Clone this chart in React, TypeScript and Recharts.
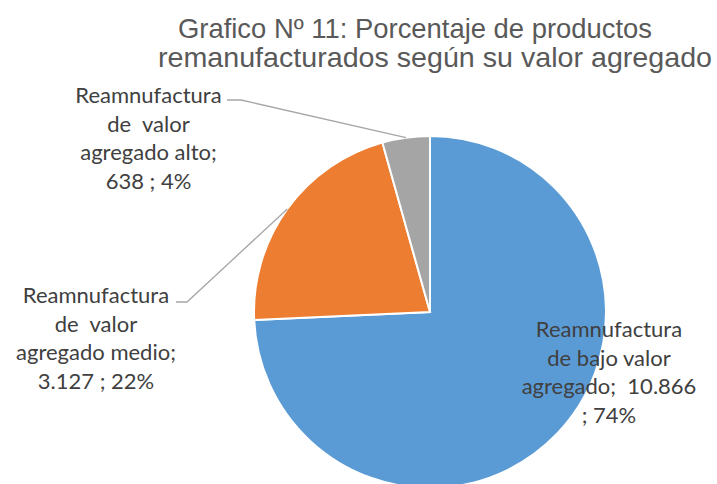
import React from "react";
import { PieChart, Pie, Cell } from "recharts";

const categories = [
  "Reamnufactura de bajo valor agregado",
  "Reamnufactura de valor agregado medio",
  "Reamnufactura de valor agregado alto",
];
const categoryLines = [
  ["Reamnufactura", "de bajo valor", "agregado;"],
  ["Reamnufactura", "de  valor", "agregado medio;"],
  ["Reamnufactura", "de  valor", "agregado alto;"],
];
const values = [10866, 3127, 638];
const percentLabels = ["74%", "22%", "4%"];
const colors = ["#5B9BD5", "#ED7D31", "#A5A5A5"];
const titleLines = [
  "Grafico Nº 11: Porcentaje de productos",
  "remanufacturados según su valor agregado",
];

const data = categories.map((name, i) => ({ name, value: values[i] }));

const W = 717;
const H = 484;
const CX = 430;
const CY = 312;
const R = 176;
const RAD = Math.PI / 180;

const LABEL_FONT = "Lato, 'Open Sans', sans-serif";
const LABEL_SIZE = 22;
const LINE_H = 28.6;

// label layout, relative to pie center
const labelLayout = [
  { tx: 179, ty: 25, inline: true, leader: null },
  { tx: -334, ty: -9, inline: false, leader: [[-254, -10], [-243, -10]] },
  { tx: -281.5, ty: -209, inline: false, leader: [[-203, -212], [-189, -212]] },
];

const fmt = (v: number) => String(v).replace(/\B(?=(\d{3})+(?!\d))/g, ".");

const renderLabel = (props: any) => {
  const { cx, cy, midAngle, outerRadius, index } = props;
  const lay = labelLayout[index];
  const names = categoryLines[index];
  const v = fmt(values[index]);
  const pct = percentLabels[index];
  let lines: string[];
  if (lay.inline) {
    lines = [...names.slice(0, -1), `${names[names.length - 1]}  ${v}`, `; ${pct}`];
  } else {
    lines = [...names, `${v} ; ${pct}`];
  }
  const ax = cx + outerRadius * Math.cos(-midAngle * RAD);
  const ay = cy + outerRadius * Math.sin(-midAngle * RAD);
  const x = cx + lay.tx;
  const y0 = cy + lay.ty;
  return (
    <g key={`lbl-${index}`}>
      {lay.leader && (
        <polyline
          points={`${cx + lay.leader[0][0]},${cy + lay.leader[0][1]} ${cx + lay.leader[1][0]},${cy + lay.leader[1][1]} ${ax},${ay}`}
          fill="none"
          stroke="#A6A6A6"
          strokeWidth={1.3}
        />
      )}
      <text
        x={x}
        y={y0}
        textAnchor="middle"
        fill="#404040"
        fontFamily={LABEL_FONT}
        fontSize={LABEL_SIZE}
        style={{ whiteSpace: "pre" }}
      >
        {lines.map((l, i) => (
          <tspan key={i} x={x} y={y0 + i * LINE_H}>
            {l}
          </tspan>
        ))}
      </text>
    </g>
  );
};

export default function App() {
  return (
    <div style={{ position: "absolute", left: 0, top: 0, width: W, height: H, background: "#fff", overflow: "hidden" }}>
      <PieChart width={W} height={H} margin={{ top: 0, right: 0, bottom: 0, left: 0 }}>
        <Pie
          data={data}
          dataKey="value"
          nameKey="name"
          cx={CX}
          cy={CY}
          outerRadius={R}
          innerRadius={0}
          startAngle={90}
          endAngle={-270}
          stroke="#FFFFFF"
          strokeWidth={2}
          label={renderLabel}
          labelLine={false}
          isAnimationActive={false}
        >
          {data.map((d, i) => (
            <Cell key={d.name} fill={colors[i]} />
          ))}
        </Pie>
      </PieChart>
      <svg width={W} height={H} style={{ position: "absolute", left: 0, top: 0, pointerEvents: "none" }}>
        <text x={178} y={38} fill="#595959" fontFamily="'Liberation Sans', Arial, sans-serif" fontSize={27.5} textLength={474} lengthAdjust="spacingAndGlyphs">
          {titleLines[0]}
        </text>
        <text x={158} y={67} fill="#595959" fontFamily="'Liberation Sans', Arial, sans-serif" fontSize={27.5} textLength={554} lengthAdjust="spacingAndGlyphs">
          {titleLines[1]}
        </text>
      </svg>
    </div>
  );
}
